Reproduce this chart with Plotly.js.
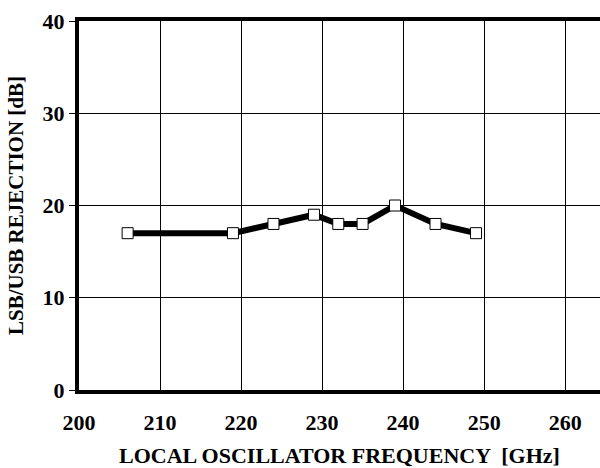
<!DOCTYPE html>
<html>
<head>
<meta charset="utf-8">
<script src="https://cdn.plot.ly/plotly-3.0.1.min.js"></script>
<style>html,body{margin:0;padding:0;background:#fff;}#chart{width:600px;height:468px;}</style>
</head>
<body>
<div id="chart"></div>
<script>
const loFrequency = [206, 219, 224, 229, 232, 235, 239, 244, 249];
const rejection = [17, 17, 18, 19, 18, 18, 20, 18, 17];
const xTicks = [200, 210, 220, 230, 240, 250, 260];
const yTicks = [0, 10, 20, 30, 40];

const fam = 'Liberation Serif, Times New Roman, serif';

Plotly.newPlot('chart', [{
  x: loFrequency,
  y: rejection,
  mode: 'lines+markers',
  line: {color: '#000', width: 6},
  marker: {symbol: 'square', size: 11, color: '#fff', line: {color: '#000', width: 1}},
  cliponaxis: false
}], {
  width: 600, height: 468,
  margin: {l: 79, r: 0, t: 21, b: 78},
  paper_bgcolor: '#fff', plot_bgcolor: '#fff',
  showlegend: false,
  font: {family: fam, size: 20, color: '#000'},
  xaxis: {
    range: [200, 264.3],
    tickvals: xTicks, ticktext: xTicks.map(v => '<b>' + v + '</b>'),
    showgrid: true, gridcolor: '#000', gridwidth: 1,
    showline: true, linecolor: '#000', linewidth: 4, mirror: true,
    ticks: '', ticklabelstandoff: 10,
    zeroline: false,
    tickfont: {family: fam, size: 22, color: '#000'},
    title: {text: '<b>LOCAL OSCILLATOR FREQUENCY  [GHz]</b>', font: {family: fam, size: 22, color: '#000'}, standoff: 15}
  },
  yaxis: {
    range: [0, 40],
    tickvals: yTicks, ticktext: yTicks.map(v => '<b>' + v + '</b>'),
    showgrid: true, gridcolor: '#000', gridwidth: 1,
    showline: true, linecolor: '#000', linewidth: 4, mirror: false,
    ticks: 'outside', ticklen: 6, tickwidth: 1, tickcolor: '#000',
    zeroline: false,
    tickfont: {family: fam, size: 22, color: '#000'},
    title: {text: '<b>LSB/USB REJECTION [dB]</b>', font: {family: fam, size: 21, color: '#000'}, standoff: 14}
  }
}, {displayModeBar: false, staticPlot: true});
</script>
</body>
</html>
